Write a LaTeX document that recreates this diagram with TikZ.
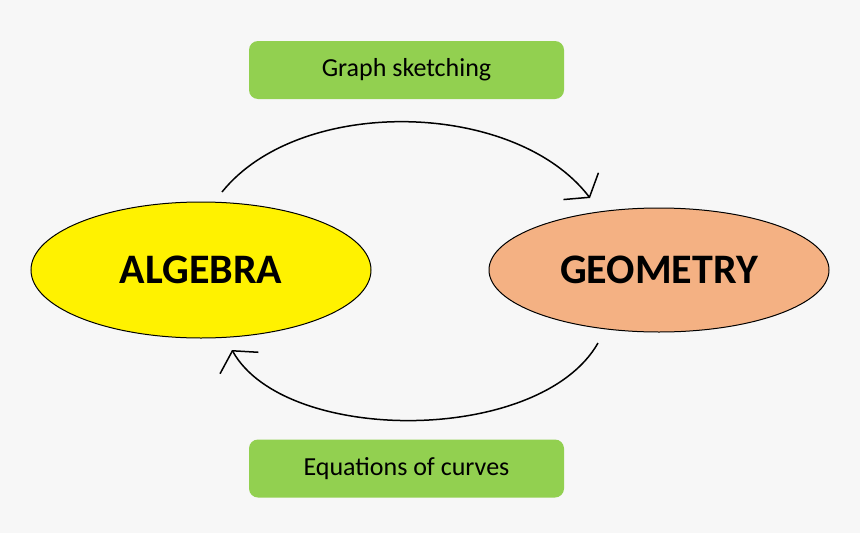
\documentclass[tikz,border=0pt]{standalone}
\usepackage{fontspec}
\setmainfont{Carlito}
\usetikzlibrary{arrows.meta,shapes.geometric}
\definecolor{bg}{HTML}{F7F7F7}
\definecolor{lgreen}{HTML}{92D050}
\definecolor{peach}{HTML}{F4B183}
\tikzset{
  labelbox/.style={fill=lgreen,rounded corners=9pt,minimum width=315pt,minimum height=58pt,font=\fontsize{26}{30}\selectfont},
  subject/.style={ellipse,draw=black,line width=1pt,font=\bfseries\fontsize{42}{48}\selectfont},
  cyc/.style={line width=1.5pt,-{Straight Barb[length=14pt,width=44pt,line width=1.5pt]}}
}
\begin{document}
\begin{tikzpicture}[x=1pt,y=-1pt]
\fill[bg] (0,0) rectangle (860,533);
\useasboundingbox (0,0) rectangle (860,533);
\node[subject,fill=yellow,minimum width=340pt,minimum height=136pt] (alg) at (201,270) {ALGEBRA};
\node[subject,fill=peach,minimum width=340pt,minimum height=124pt] (geo) at (659,270) {GEOMETRY};
\node[labelbox] (top) at (406.5,70) {Graph sketching};
\node[labelbox] (bot) at (406.5,468.5) {Equations of curves};
\coordinate (a1) at (222,192);
\coordinate (a2) at (590,198);
\coordinate (b1) at (598,343);
\coordinate (b2) at (232,350);
\draw[cyc] (a1) .. controls (300,95) and (515,100) .. (a2);
\draw[cyc] (b1) .. controls (540,445) and (285,445) .. (b2);
\end{tikzpicture}
\end{document}
